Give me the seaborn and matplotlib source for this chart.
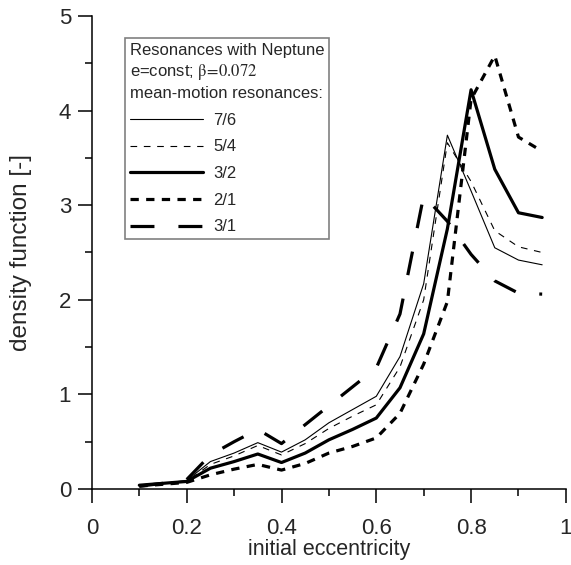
import numpy as np
import pandas as pd
import seaborn as sns
import matplotlib
matplotlib.use("Agg")
import matplotlib.pyplot as plt
from matplotlib.ticker import MultipleLocator, FormatStrFormatter

# initial eccentricity values
ecc = [0.10, 0.15, 0.20, 0.25, 0.30, 0.35, 0.40, 0.45, 0.50,
       0.55, 0.60, 0.65, 0.70, 0.75, 0.80, 0.85, 0.90, 0.95]

# density function per mean-motion resonance
res_7_6 = [0.04, 0.06, 0.09, 0.29, 0.38, 0.49, 0.39, 0.52, 0.70,
           0.84, 0.98, 1.40, 2.17, 3.74, 3.15, 2.55, 2.42, 2.37]
res_5_4 = [0.04, 0.06, 0.08, 0.26, 0.35, 0.46, 0.36, 0.48, 0.64,
           0.77, 0.89, 1.29, 2.00, 3.66, 3.25, 2.73, 2.56, 2.50]
res_3_2 = [0.04, 0.06, 0.08, 0.22, 0.29, 0.37, 0.28, 0.38, 0.52,
           0.63, 0.75, 1.07, 1.64, 2.75, 4.22, 3.38, 2.92, 2.87]
res_2_1 = [0.03, 0.05, 0.07, 0.15, 0.21, 0.26, 0.20, 0.27, 0.38,
           0.45, 0.54, 0.80, 1.32, 1.98, 4.12, 4.58, 3.72, 3.57]
res_3_1 = [0.03, 0.06, 0.10, 0.36, 0.50, 0.63, 0.48, 0.68, 0.88,
           1.08, 1.28, 1.85, 3.10, 2.83, 2.48, 2.20, 2.07, 2.06]

labels = ["7/6", "5/4", "3/2", "2/1", "3/1"]
series = [res_7_6, res_5_4, res_3_2, res_2_1, res_3_1]

# line look for each resonance: (linewidth, linestyle)
styles = {
    "7/6": (0.8, "-"),
    "5/4": (0.8, (0, (6, 6))),
    "3/2": (2.3, "-"),
    "2/1": (2.3, (0, (2.6, 2.3))),
    "3/1": (2.3, (0, (7.5, 7.5))),
}

df = pd.concat([pd.DataFrame({"ecc": ecc, "density": s, "res": lab})
                for lab, s in zip(labels, series)], ignore_index=True)

sns.set_style("ticks")
plt.rcParams["font.family"] = ["Liberation Sans", "DejaVu Sans"]
plt.rcParams["mathtext.fontset"] = "stix"

fig = plt.figure(figsize=(5.71, 5.65), dpi=100)
ax = fig.add_axes([0.161, 0.1345, 0.830, 0.8372])

for lab in labels:
    lw, ls = styles[lab]
    sns.lineplot(data=df[df["res"] == lab], x="ecc", y="density", ax=ax,
                 color="black", linewidth=lw, linestyle=ls, label=lab,
                 legend=False)

ax.set_xlim(0, 1)
ax.set_ylim(0, 5)
ax.xaxis.set_major_locator(MultipleLocator(0.2))
ax.xaxis.set_minor_locator(MultipleLocator(0.1))
ax.yaxis.set_major_locator(MultipleLocator(1))
ax.yaxis.set_minor_locator(MultipleLocator(0.5))
ax.xaxis.set_major_formatter(FormatStrFormatter("%g"))
ax.yaxis.set_major_formatter(FormatStrFormatter("%g"))
ax.tick_params(which="major", length=10, width=1.1, labelsize=16, pad=5,
               color="black")
ax.tick_params(axis="x", which="major", pad=11)
ax.tick_params(which="minor", length=5, width=1.1, color="black")
for side in ["top", "right"]:
    ax.spines[side].set_visible(False)
for side in ["left", "bottom"]:
    ax.spines[side].set_linewidth(1.1)
    ax.spines[side].set_color("black")

ax.set_xlabel("initial eccentricity", fontsize=15.5, labelpad=0)
ax.set_ylabel("density function [-]", fontsize=17.5, labelpad=19)

leg = ax.legend(title="Resonances with Neptune\n"
                      r"e=const; $\mathrm{\beta\!=\!0.072}$" "\n"
                      "mean-motion resonances:",
                loc="upper left", bbox_to_anchor=(0.069, 0.953),
                borderaxespad=0,
                fontsize=12, title_fontsize=12, alignment="left",
                handlelength=4.4, handletextpad=0.6, labelspacing=0.7,
                borderpad=0.3, fancybox=False, framealpha=1,
                edgecolor="gray")
leg.get_title().set_linespacing(1.3)
leg.get_frame().set_linewidth(1.2)

fig.savefig("out.png", dpi=100)
